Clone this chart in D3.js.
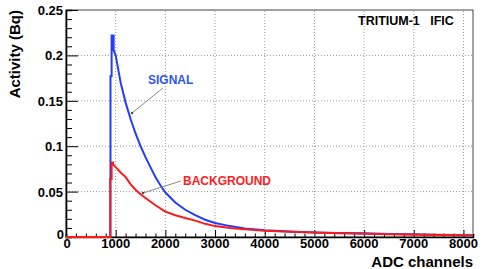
<!DOCTYPE html>
<html>
<head>
<meta charset="utf-8">
<script src="https://cdn.jsdelivr.net/npm/d3@7"></script>
<style>
  body { margin: 0; background: #fff; }
  text { font-family: "Liberation Sans", Arial, sans-serif; }
</style>
</head>
<body>
<svg width="485" height="269"></svg>
<script>
const width = 485;
const height = 269;

// [ADC channel, activity in Bq]
const signal = [
  [0, 0], [895, 0], [895, 0.177], [918, 0.177], [918, 0.222], [958, 0.222], [958, 0.206],
  [1000, 0.200], [1100, 0.170], [1200, 0.148], [1300, 0.130], [1400, 0.114], [1500, 0.100],
  [1600, 0.088], [1700, 0.077], [1800, 0.066], [1900, 0.057], [2000, 0.049], [2200, 0.038],
  [2400, 0.030], [2600, 0.024], [2800, 0.019], [3000, 0.0155], [3300, 0.012], [3600, 0.0095],
  [4000, 0.0075], [4500, 0.006], [5000, 0.005], [5500, 0.0045], [6000, 0.004], [6500, 0.0034],
  [7000, 0.003], [7500, 0.0025], [8000, 0.002], [8192, 0.002]
];
const background = [
  [0, 0], [890, 0], [890, 0.064], [918, 0.064], [918, 0.082], [945, 0.082], [945, 0.080],
  [1000, 0.077], [1100, 0.071], [1200, 0.066], [1300, 0.058], [1400, 0.052], [1500, 0.047],
  [1600, 0.043], [1800, 0.035], [2000, 0.028], [2200, 0.024], [2400, 0.021], [2600, 0.018],
  [2800, 0.0145], [3000, 0.012], [3300, 0.010], [3600, 0.0085], [4000, 0.007], [4500, 0.0058],
  [5000, 0.005], [5500, 0.0042], [6000, 0.0036], [6500, 0.003], [7000, 0.0025], [7500, 0.0021],
  [8000, 0.0018], [8192, 0.0018]
];
const xTicks = [0, 1000, 2000, 3000, 4000, 5000, 6000, 7000, 8000];
const yTicks = [0, 0.05, 0.1, 0.15, 0.2, 0.25];

const margin = {left: 66, right: 12, top: 10, bottom: 32};

const x = d3.scaleLinear().domain([0, 8192]).range([margin.left, width - margin.right]);
const y = d3.scaleLinear().domain([0, 0.25]).range([height - margin.bottom, margin.top]);

const svg = d3.select('svg');

// dotted grid
svg.append('g')
  .selectAll('line')
  .data(xTicks.filter(d => d > 0))
  .join('line')
    .attr('x1', d => x(d)).attr('x2', d => x(d))
    .attr('y1', y(0)).attr('y2', y(0.25))
    .attr('stroke', '#999').attr('stroke-width', 1).attr('stroke-dasharray', '1,2');
svg.append('g')
  .selectAll('line')
  .data(yTicks.filter(d => d > 0 && d < 0.25))
  .join('line')
    .attr('x1', x(0)).attr('x2', x(8192))
    .attr('y1', d => y(d)).attr('y2', d => y(d))
    .attr('stroke', '#999').attr('stroke-width', 1).attr('stroke-dasharray', '1,2');

// frame
svg.append('rect')
  .attr('x', x(0)).attr('y', y(0.25))
  .attr('width', x(8192) - x(0)).attr('height', y(0) - y(0.25))
  .attr('fill', 'none').attr('stroke', '#444').attr('stroke-width', 1);

// axes with inward ticks
const xAxis = d3.axisTop(x).tickValues(d3.range(0, 8193, 200)).tickSize(3).tickFormat('');
svg.append('g').attr('transform', `translate(0,${y(0)})`).call(xAxis)
  .call(g => g.select('.domain').attr('stroke-width', 1.6))
  .call(g => g.selectAll('.tick line').attr('y2', d => d % 1000 === 0 ? -7 : -3.5));

const yAxis = d3.axisRight(y).tickValues(d3.range(0, 0.2501, 0.01)).tickSize(6).tickFormat('');
svg.append('g').attr('transform', `translate(${x(0)},0)`).call(yAxis)
  .call(g => g.select('.domain').attr('stroke-width', 1.6))
  .call(g => g.selectAll('.tick line').attr('x2', (d, i) => i % 5 === 0 ? 12 : 6));

// tick labels
svg.append('g')
  .selectAll('text')
  .data(xTicks)
  .join('text')
    .attr('x', d => d === 0 ? x(d) + 1 : x(d)).attr('y', y(0) + 11)
    .attr('text-anchor', 'middle')
    .attr('font-size', 13).attr('font-weight', 'bold')
    .text(d => d);
svg.append('g')
  .selectAll('text')
  .data(yTicks)
  .join('text')
    .attr('x', d => d === 0 ? x(0) - 2 : x(0) - 3).attr('y', d => d === 0 ? y(0) + 2 : y(d) + 5)
    .attr('text-anchor', 'end')
    .attr('font-size', 13).attr('font-weight', 'bold')
    .text(d => d);

// axis titles
svg.append('text')
  .attr('transform', `translate(20,${margin.top}) rotate(-90)`)
  .attr('text-anchor', 'end')
  .attr('font-size', 15).attr('font-weight', 'bold')
  .text('Activity (Bq)');
svg.append('text')
  .attr('x', x(8192)).attr('y', 267)
  .attr('text-anchor', 'end')
  .attr('font-size', 15).attr('font-weight', 'bold')
  .text('ADC channels');

// curves
const line = d3.line().x(d => x(d[0])).y(d => y(d[1]));
svg.append('path').datum(signal)
  .attr('d', line).attr('fill', 'none')
  .attr('stroke', '#1f3cff').attr('stroke-width', 2);
svg.append('path').datum(background)
  .attr('d', line).attr('fill', 'none')
  .attr('stroke', '#ff1a1a').attr('stroke-width', 2);

// labels and pointers
svg.append('text')
  .attr('x', 358).attr('y', 25)
  .attr('font-size', 12.5).attr('font-weight', 'bold')
  .style('white-space', 'pre')
  .text('TRITIUM-1   IFIC');

svg.append('text')
  .attr('x', 148).attr('y', 84)
  .attr('font-size', 12).attr('font-weight', 'bold').attr('fill', '#2f55ee')
  .text('SIGNAL');
svg.append('text')
  .attr('x', 183).attr('y', 185)
  .attr('font-size', 12).attr('font-weight', 'bold').attr('fill', '#ff2020')
  .text('BACKGROUND');

const pointers = [[163, 88, 132, 113], [181, 181, 143, 193]];
svg.append('g')
  .selectAll('line')
  .data(pointers)
  .join('line')
    .attr('x1', d => d[0]).attr('y1', d => d[1])
    .attr('x2', d => d[2]).attr('y2', d => d[3])
    .attr('stroke', '#888').attr('stroke-width', 1);
svg.append('g')
  .selectAll('circle')
  .data(pointers)
  .join('circle')
    .attr('cx', d => d[2]).attr('cy', d => d[3]).attr('r', 1.2)
    .attr('fill', '#444');
</script>
</body>
</html>
